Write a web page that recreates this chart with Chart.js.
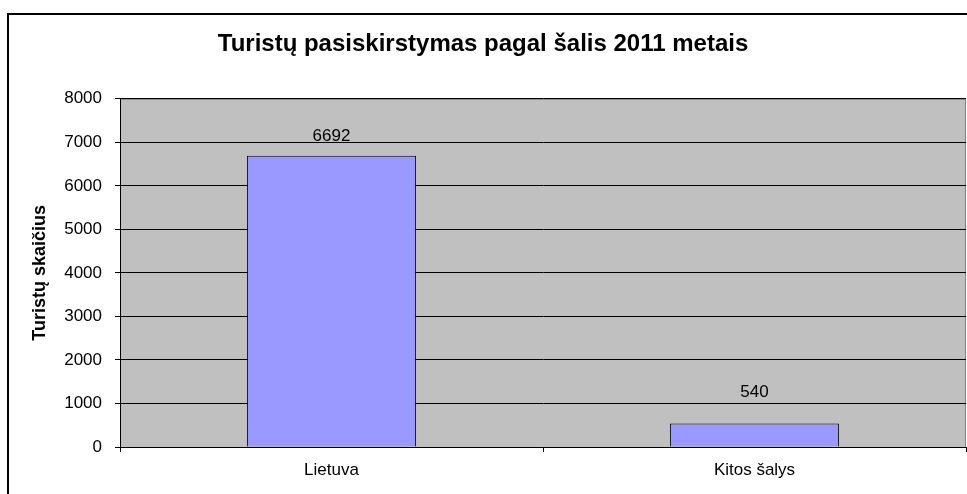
<!DOCTYPE html>
<html lang="lt">
<head>
    <meta charset="UTF-8">
    <title>Turistų pasiskirstymas pagal šalis 2011 metais</title>
    <script src="https://cdn.jsdelivr.net/npm/chart.js"></script>
    <style>
        html, body {
            margin: 0;
            padding: 0;
            background: #ffffff;
        }
        .chart-container {
            position: relative;
            width: 967px;
            height: 494px;
        }
    </style>
</head>
<body>
    <div class="chart-container">
        <canvas id="touristChart"></canvas>
    </div>

    <script>
        // Data
        const categories = ['Lietuva', 'Kitos šalys'];
        const touristCounts = [6692, 540];
        const yTicks = [0, 1000, 2000, 3000, 4000, 5000, 6000, 7000, 8000];

        const FONT = 'Arial, "Liberation Sans", sans-serif';
        // how far above each bar its label sits (px), as in the original
        const labelGap = [19, 31];

        // frame round the whole chart + grey plot area
        const backdrop = {
            id: 'backdrop',
            beforeDraw(chart) {
                const ctx = chart.ctx;
                const a = chart.chartArea;
                ctx.save();
                ctx.fillStyle = '#c0c0c0';
                ctx.fillRect(a.left, a.top, a.right - a.left, a.bottom - a.top);
                ctx.strokeStyle = '#808080';
                ctx.lineWidth = 1;
                ctx.strokeRect(a.left + 0.5, a.top + 0.5, a.right - a.left - 1, a.bottom - a.top);
                ctx.strokeStyle = '#000000';
                ctx.lineWidth = 2;
                ctx.beginPath();
                ctx.moveTo(8, chart.height);
                ctx.lineTo(8, 14);
                ctx.lineTo(chart.width, 14);
                ctx.stroke();
                ctx.restore();
            }
        };

        // value labels above bars
        const valueLabels = {
            id: 'valueLabels',
            afterDatasetsDraw(chart) {
                const ctx = chart.ctx;
                const meta = chart.getDatasetMeta(0);
                ctx.save();
                ctx.font = '17px ' + FONT;
                ctx.fillStyle = '#000000';
                ctx.textAlign = 'center';
                ctx.textBaseline = 'middle';
                meta.data.forEach((bar, i) => {
                    ctx.fillText(String(touristCounts[i]), bar.x, bar.y - labelGap[i]);
                });
                ctx.restore();
            }
        };

        const touristChart = new Chart(document.getElementById('touristChart'), {
            type: 'bar',
            data: {
                labels: categories,
                datasets: [{
                    data: touristCounts,
                    backgroundColor: '#9999ff',
                    borderColor: '#000000',
                    borderWidth: 1,
                    barPercentage: 0.4,
                    categoryPercentage: 1
                }]
            },
            options: {
                responsive: true,
                maintainAspectRatio: false,
                animation: false,
                layout: {
                    padding: { left: 0, right: 1, top: 0, bottom: 0 }
                },
                scales: {
                    x: {
                        grid: {
                            display: true,
                            drawOnChartArea: false,
                            drawTicks: true,
                            tickLength: 5,
                            color: '#000000',
                            offset: true
                        },
                        border: { display: true, color: '#000000', width: 1 },
                        ticks: {
                            color: '#000000',
                            font: { family: FONT, size: 17 },
                            padding: 8
                        },
                        afterFit(scale) { scale.height = 47; }
                    },
                    y: {
                        min: 0,
                        max: 8000,
                        afterBuildTicks(scale) {
                            scale.ticks = yTicks.map(v => ({ value: v }));
                        },
                        grid: {
                            color: '#000000',
                            tickLength: 5,
                            drawTicks: true
                        },
                        border: { display: true, color: '#000000', width: 1 },
                        ticks: {
                            color: '#000000',
                            font: { family: FONT, size: 17 },
                            padding: 13,
                            callback: v => String(v)
                        },
                        title: {
                            display: true,
                            text: 'Turistų skaičius',
                            color: '#000000',
                            font: { family: FONT, size: 18, weight: 'bold' },
                            padding: { top: 29, bottom: 0 }
                        },
                        afterFit(scale) { scale.width = 120; }
                    }
                },
                plugins: {
                    legend: { display: false },
                    tooltip: { enabled: false },
                    title: {
                        display: true,
                        text: 'Turistų pasiskirstymas pagal šalis 2011 metais',
                        color: '#000000',
                        font: { family: FONT, size: 24, weight: 'bold' },
                        padding: { top: 30, bottom: 40 }
                    }
                }
            },
            plugins: [backdrop, valueLabels]
        });
    </script>
</body>
</html>
